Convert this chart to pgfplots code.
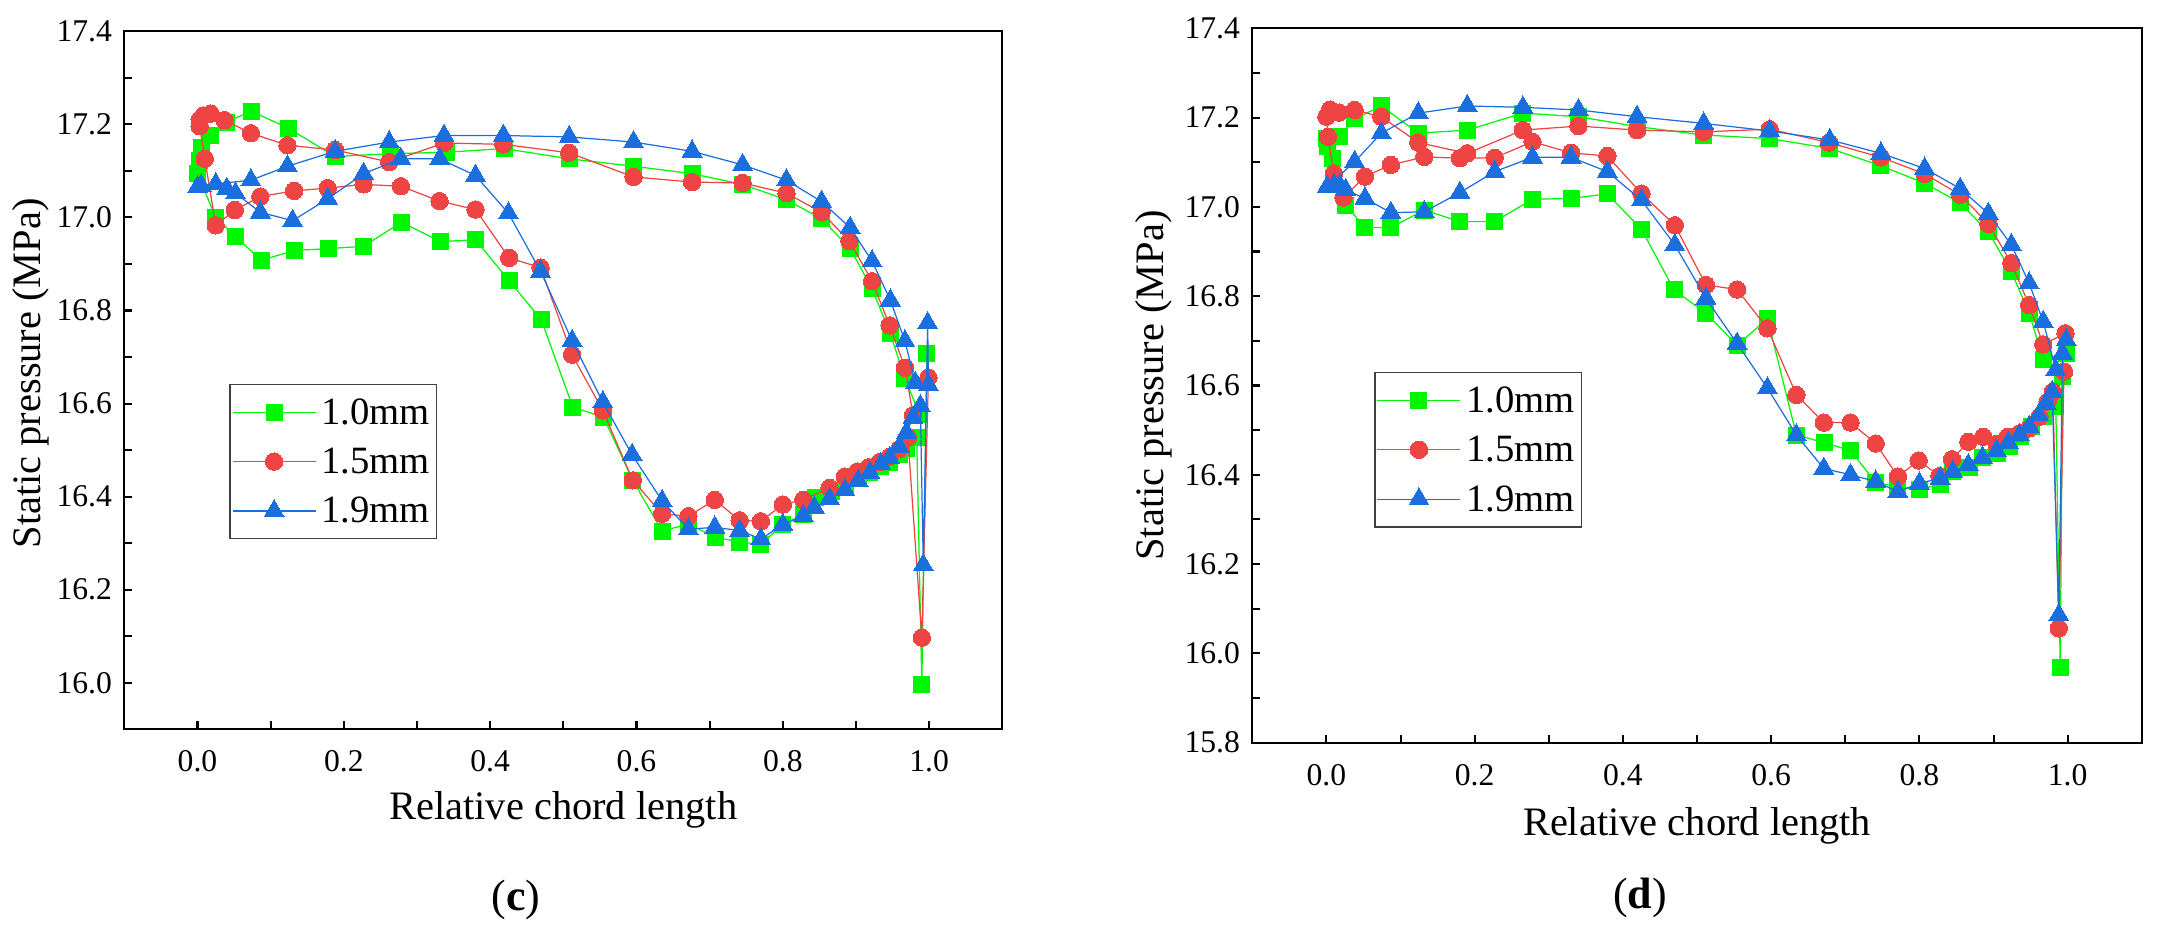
\documentclass[border=0pt]{standalone}
\usepackage{fontspec}
\IfFontExistsTF{LiberationSerif-Regular.ttf}
  {\setmainfont{LiberationSerif}[Extension=.ttf, UprightFont=*-Regular, BoldFont=*-Bold, ItalicFont=*-Italic, BoldItalicFont=*-BoldItalic]}
  {\setmainfont{Liberation Serif}}
\usepackage{pgfplots}
\pgfplotsset{compat=1.18}
\definecolor{cg}{RGB}{0,245,0}
\definecolor{cr}{RGB}{239,68,68}
\definecolor{cb}{RGB}{27,110,221}
\pgfplotsset{
  panel/.style={
    scale only axis,
    clip mode=individual,
    xmin=-0.1, xmax=1.1,
    axis line style={line width=0.6pt},
    every tick/.style={line width=0.6pt, black},
    tick align=inside,
    major tick length=0.8mm, minor tick length=0.8mm,
    tick pos=left,
    xtick={0,0.2,0.4,0.6,0.8,1.0},
    minor xtick={0.1,0.3,0.5,0.7,0.9},
    /pgf/number format/assume math mode=true,
    /pgf/number format/.cd, fixed, fixed zerofill, precision=1, /pgfplots/.cd,
    ticklabel style={font=\fontsize{9}{10}\selectfont},
    xticklabel style={yshift=-0.9mm},
    label style={font=\fontsize{11.5}{13}\selectfont},
    xlabel={Relative chord length},
    ylabel={Static pressure (MPa)},
    legend cell align=left,
    legend image code/.code={\draw[mark repeat=2,mark phase=2] plot coordinates {(0cm,0cm) (0.415cm,0cm) (0.83cm,0cm)};},
    legend style={draw=black!75, line width=0.4pt, fill=white,
      font=\fontsize{11}{12}\selectfont,
      inner xsep=0.2mm, inner ysep=0.3mm,
      nodes={inner xsep=0.5mm, inner ysep=0.97mm, text height=2.7mm, text depth=0.3mm},
      row sep=0pt},
  },
  sg/.style={color=cg, line width=0.35pt, mark=square*, mark size=0.8mm, mark options={fill=cg, draw=cg, line width=0pt}},
  sr/.style={color=cr, line width=0.35pt, mark=*, mark size=0.87mm, mark options={fill=cr, draw=cr, line width=0pt}},
  sb/.style={color=cb, line width=0.35pt, mark=triangle*, mark size=1.15mm, mark options={fill=cb, draw=cb, line width=0pt}},
}
\begin{document}
\begin{tikzpicture}
\useasboundingbox (0,0) rectangle (215.8mm,93.3mm);
% ---------------- panel (c) ----------------
\begin{axis}[panel,
  at={(12.43mm,20.37mm)}, anchor=south west,
  width=87.8mm, height=69.8mm,
  ymin=15.9, ymax=17.4,
  ytick={16.0,16.2,16.4,16.6,16.8,17.0,17.2,17.4},
  minor ytick={16.1,16.3,16.5,16.7,16.9,17.1,17.3},
  xlabel style={at={(axis description cs:0.5,-0.116)}, anchor=center},
  ylabel style={at={(axis description cs:-0.107,0.51)}, anchor=center},
  legend style={at={(axis description cs:0.1196,0.495)}, anchor=north west},
]
\addplot[sg] coordinates {
(0.987,16.577) (0.967,16.653) (0.947,16.750) (0.922,16.847) (0.892,16.933) (0.853,16.997)
(0.805,17.038) (0.745,17.071) (0.676,17.094) (0.596,17.110) (0.508,17.126) (0.419,17.148)
(0.340,17.140) (0.264,17.137) (0.188,17.131) (0.124,17.192) (0.074,17.228) (0.039,17.205)
(0.018,17.176) (0.005,17.151) (0.003,17.123) (0.000,17.094)
(0.025,17.000) (0.052,16.959) (0.087,16.908) (0.133,16.929) (0.179,16.933) (0.227,16.938)
(0.279,16.990) (0.332,16.948) (0.380,16.952) (0.426,16.864) (0.470,16.780) (0.513,16.592)
(0.555,16.571) (0.595,16.435) (0.635,16.326) (0.671,16.341) (0.708,16.313) (0.741,16.302)
(0.770,16.298) (0.800,16.340) (0.828,16.361) (0.845,16.398) (0.866,16.410) (0.886,16.425)
(0.904,16.440) (0.919,16.452) (0.934,16.465) (0.946,16.474) (0.959,16.490) (0.969,16.503)
(0.983,16.528) (0.990,15.997) (0.997,16.708)
};
\addlegendentry{1.0mm}
\addplot[sr] coordinates {
(0.978,16.575) (0.967,16.677) (0.946,16.768) (0.922,16.863) (0.891,16.949) (0.853,17.011)
(0.805,17.052) (0.745,17.074) (0.676,17.076) (0.596,17.087) (0.508,17.139) (0.418,17.157)
(0.337,17.160) (0.262,17.119) (0.188,17.145) (0.123,17.155) (0.073,17.181) (0.037,17.209)
(0.018,17.223) (0.008,17.219) (0.003,17.210) (0.003,17.196) (0.010,17.126)
(0.025,16.983) (0.051,17.016) (0.086,17.045) (0.132,17.057) (0.178,17.063) (0.227,17.071)
(0.278,17.067) (0.331,17.035) (0.380,17.017) (0.426,16.913) (0.469,16.892) (0.512,16.705)
(0.554,16.585) (0.595,16.435) (0.635,16.363) (0.671,16.358) (0.707,16.393) (0.741,16.349)
(0.770,16.347) (0.800,16.383) (0.828,16.393) (0.864,16.419) (0.885,16.443) (0.902,16.454)
(0.917,16.463) (0.932,16.474) (0.946,16.486) (0.959,16.502) (0.971,16.527) (0.990,16.097)
(0.999,16.656)
};
\addlegendentry{1.5mm}
\addplot[sb] coordinates {
(0.981,16.645) (0.967,16.734) (0.947,16.822) (0.922,16.906) (0.892,16.978) (0.853,17.034)
(0.805,17.080) (0.745,17.113) (0.676,17.142) (0.596,17.162) (0.508,17.173) (0.418,17.176)
(0.337,17.176) (0.262,17.162) (0.188,17.142) (0.123,17.110) (0.073,17.080) (0.025,17.072)
(0.005,17.069) (0.000,17.065)
(0.040,17.062) (0.052,17.052) (0.086,17.011) (0.130,16.993) (0.178,17.040) (0.227,17.094)
(0.278,17.126) (0.331,17.126) (0.380,17.090) (0.425,17.009) (0.469,16.884) (0.512,16.735)
(0.554,16.603) (0.594,16.490) (0.635,16.391) (0.671,16.330) (0.707,16.334) (0.741,16.327)
(0.770,16.309) (0.800,16.340) (0.828,16.359) (0.843,16.377) (0.864,16.395) (0.885,16.414)
(0.903,16.434) (0.919,16.452) (0.934,16.470) (0.946,16.483) (0.959,16.507) (0.969,16.538)
(0.978,16.570) (0.988,16.595) (0.992,16.253) (0.998,16.773) (0.999,16.640)
};
\addlegendentry{1.9mm}
\node[font=\fontsize{12.5}{14}\selectfont, anchor=center] at (axis description cs:0.446,-0.245) {(\textbf{c})};
\end{axis}
% ---------------- panel (d) ----------------
\begin{axis}[panel,
  at={(125.23mm,19.03mm)}, anchor=south west,
  width=88.95mm, height=71.44mm,
  ymin=15.8, ymax=17.4,
  ytick={15.8,16.0,16.2,16.4,16.6,16.8,17.0,17.2,17.4},
  minor ytick={15.9,16.1,16.3,16.5,16.7,16.9,17.1,17.3},
  xlabel style={at={(axis description cs:0.5,-0.116)}, anchor=center},
  ylabel style={at={(axis description cs:-0.111,0.5)}, anchor=center},
  legend style={at={(axis description cs:0.137,0.519)}, anchor=north west},
]
\addplot[sg] coordinates {
(0.998,16.672) (0.967,16.659) (0.948,16.762) (0.924,16.855) (0.893,16.944) (0.855,17.009)
(0.807,17.053) (0.748,17.092) (0.679,17.131) (0.598,17.153) (0.509,17.161) (0.419,17.180)
(0.340,17.202) (0.265,17.210) (0.190,17.172) (0.124,17.165) (0.074,17.226) (0.038,17.197)
(0.018,17.157) (0.000,17.153) (0.001,17.135) (0.008,17.109)
(0.026,17.004) (0.052,16.954) (0.087,16.954) (0.132,16.993) (0.180,16.967) (0.227,16.967)
(0.278,17.017) (0.330,17.019) (0.379,17.029) (0.425,16.950) (0.469,16.814) (0.512,16.762)
(0.554,16.690) (0.595,16.750) (0.634,16.489) (0.672,16.472) (0.707,16.454) (0.741,16.383)
(0.771,16.373) (0.800,16.367) (0.828,16.379) (0.845,16.407) (0.867,16.417) (0.885,16.439)
(0.905,16.448) (0.921,16.464) (0.937,16.485) (0.951,16.508) (0.968,16.530) (0.984,16.553)
(0.990,15.968) (0.993,16.620)
};
\addlegendentry{1.0mm}
\addplot[sr] coordinates {
(0.997,16.717) (0.967,16.692) (0.948,16.780) (0.924,16.874) (0.893,16.962) (0.855,17.027)
(0.807,17.074) (0.748,17.111) (0.678,17.144) (0.598,17.174) (0.509,17.168) (0.419,17.172)
(0.340,17.181) (0.265,17.172) (0.190,17.120) (0.124,17.144) (0.074,17.202) (0.038,17.217)
(0.017,17.211) (0.005,17.218) (0.000,17.202) (0.002,17.157) (0.010,17.075)
(0.023,17.021) (0.052,17.068) (0.087,17.094) (0.132,17.112) (0.180,17.109) (0.227,17.110)
(0.278,17.146) (0.330,17.121) (0.379,17.114) (0.425,17.030) (0.470,16.959) (0.512,16.825)
(0.554,16.815) (0.595,16.728) (0.634,16.579) (0.671,16.517) (0.707,16.517) (0.741,16.470)
(0.771,16.396) (0.799,16.432) (0.827,16.397) (0.844,16.435) (0.866,16.474) (0.886,16.485)
(0.904,16.469) (0.919,16.485) (0.935,16.493) (0.948,16.504) (0.962,16.530) (0.973,16.564)
(0.980,16.586) (0.988,16.056) (0.995,16.631)
};
\addlegendentry{1.5mm}
\addplot[sb] coordinates {
(0.984,16.635) (0.967,16.743) (0.948,16.829) (0.924,16.915) (0.893,16.985) (0.855,17.041)
(0.807,17.086) (0.748,17.120) (0.679,17.150) (0.598,17.170) (0.509,17.187) (0.419,17.202)
(0.340,17.217) (0.265,17.223) (0.190,17.226) (0.124,17.210) (0.074,17.165) (0.038,17.101)
(0.001,17.045) (0.010,17.049) (0.019,17.045) (0.026,17.038)
(0.052,17.019) (0.087,16.987) (0.132,16.989) (0.180,17.032) (0.227,17.079) (0.278,17.111)
(0.330,17.111) (0.379,17.079) (0.425,17.015) (0.470,16.915) (0.512,16.795) (0.554,16.694)
(0.595,16.594) (0.634,16.489) (0.671,16.414) (0.707,16.400) (0.741,16.385) (0.771,16.362)
(0.800,16.381) (0.828,16.392) (0.845,16.407) (0.866,16.422) (0.885,16.439) (0.904,16.454)
(0.920,16.472) (0.935,16.489) (0.948,16.508) (0.961,16.534) (0.971,16.560) (0.979,16.586)
(0.988,16.086) (0.993,16.672) (0.998,16.702)
};
\addlegendentry{1.9mm}
\node[font=\fontsize{12.5}{14}\selectfont, anchor=center] at (axis description cs:0.436,-0.217) {(\textbf{d})};
\end{axis}
\end{tikzpicture}
\end{document}
